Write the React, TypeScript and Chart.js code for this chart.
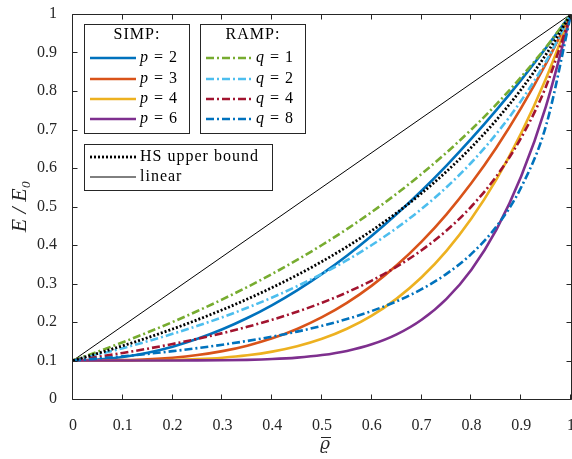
import React, { useEffect, useRef } from "react";
import { Chart, registerables } from "chart.js";

Chart.register(...registerables);

// density values
const rho = [0, 0.05, 0.1, 0.15, 0.2, 0.25, 0.3, 0.35, 0.4, 0.45, 0.5, 0.55, 0.6, 0.65, 0.7, 0.75, 0.8, 0.85, 0.9, 0.95, 1];

// SIMP curves
const simpP2 = [0.1, 0.1023, 0.109, 0.1203, 0.136, 0.1563, 0.181, 0.2103, 0.244, 0.2823, 0.325, 0.3723, 0.424, 0.4803, 0.541, 0.6063, 0.676, 0.7503, 0.829, 0.9123, 1];
const simpP3 = [0.1, 0.1001, 0.1009, 0.103, 0.1072, 0.1141, 0.1243, 0.1386, 0.1576, 0.182, 0.2125, 0.2497, 0.2944, 0.3472, 0.4087, 0.4797, 0.5608, 0.6527, 0.7561, 0.8716, 1];
const simpP4 = [0.1, 0.1, 0.1001, 0.1005, 0.1014, 0.1035, 0.1073, 0.1135, 0.123, 0.1369, 0.1563, 0.1824, 0.2166, 0.2607, 0.3161, 0.3848, 0.4686, 0.5698, 0.6905, 0.8331, 1];
const simpP6 = [0.1, 0.1, 0.1, 0.1, 0.1001, 0.1002, 0.1007, 0.1017, 0.1037, 0.1075, 0.1141, 0.1249, 0.142, 0.1679, 0.2059, 0.2602, 0.3359, 0.4394, 0.5783, 0.7616, 1];

// RAMP curves
const rampQ1 = [0.1, 0.1231, 0.1474, 0.173, 0.2, 0.2286, 0.2588, 0.2909, 0.325, 0.3613, 0.4, 0.4414, 0.4857, 0.5333, 0.5846, 0.64, 0.7, 0.7652, 0.8364, 0.9143, 1];
const rampQ2 = [0.1, 0.1155, 0.1321, 0.15, 0.1692, 0.19, 0.2125, 0.237, 0.2636, 0.2929, 0.325, 0.3605, 0.4, 0.4441, 0.4938, 0.55, 0.6143, 0.6885, 0.775, 0.8773, 1];
const rampQ4 = [0.1, 0.1094, 0.1196, 0.1307, 0.1429, 0.1563, 0.1711, 0.1875, 0.2059, 0.2266, 0.25, 0.2768, 0.3077, 0.3438, 0.3864, 0.4375, 0.5, 0.5781, 0.6786, 0.8125, 1];
const rampQ8 = [0.1, 0.1052, 0.111, 0.1173, 0.1243, 0.1321, 0.1409, 0.1508, 0.1621, 0.175, 0.19, 0.2076, 0.2286, 0.2539, 0.2853, 0.325, 0.3769, 0.4477, 0.55, 0.7107, 1];

// Hashin-Shtrikman upper bound
const hsUpper = [0.1, 0.1186, 0.1383, 0.1593, 0.1818, 0.2059, 0.2317, 0.2595, 0.2895, 0.3219, 0.3571, 0.3955, 0.4375, 0.4836, 0.5345, 0.5909, 0.6538, 0.7245, 0.8043, 0.8953, 1];

// linear reference
const linearX = [0, 1];
const linearY = [0.1, 1];

const xTickLabels = ["0", "0.1", "0.2", "0.3", "0.4", "0.5", "0.6", "0.7", "0.8", "0.9", "1"];
const yTickLabels = ["0", "0.1", "0.2", "0.3", "0.4", "0.5", "0.6", "0.7", "0.8", "0.9", "1"];

const simpLabels = ["p = 2", "p = 3", "p = 4", "p = 6"];
const rampLabels = ["q = 1", "q = 2", "q = 4", "q = 8"];
const otherLabels = ["HS upper bound", "linear"];
const groupTitles = ["SIMP:", "RAMP:"];
const xTitle = "ϱ";
const yTitle = "E / E₀";

const FONT = "'Liberation Serif', 'DejaVu Serif', serif";
const AXIS = "#262626";
const DASHDOT = [8, 3, 2, 3];

const framePlugin = {
  id: "frameAndLegend",
  afterDatasetsDraw(chart: any) {
    const { ctx, chartArea: a, scales } = chart;
    ctx.save();
    ctx.setLineDash([]);
    ctx.strokeStyle = AXIS;
    ctx.lineWidth = 1;
    const L = a.left - 0.5, R = a.right + 0.5, T = a.top + 0.5, B = a.bottom + 0.5;
    ctx.beginPath();
    ctx.rect(L, T, R - L, B - T);
    ctx.stroke();
    const tl = 5;
    ctx.beginPath();
    for (let i = 0; i < xTickLabels.length; i++) {
      const px = Math.round(scales.x.getPixelForValue(i / 10)) - 0.5;
      ctx.moveTo(px, B); ctx.lineTo(px, B - tl);
      ctx.moveTo(px, T); ctx.lineTo(px, T + tl);
    }
    for (let i = 0; i < yTickLabels.length; i++) {
      const py = Math.round(scales.y.getPixelForValue(i / 10)) + 0.5;
      ctx.moveTo(L, py); ctx.lineTo(L + tl, py);
      ctx.moveTo(R, py); ctx.lineTo(R - tl, py);
    }
    ctx.stroke();

    // x-axis title: varrho with a bar
    const cx = (a.left + a.right) / 2 + 3;
    ctx.fillStyle = AXIS;
    ctx.font = `italic 17px 'DejaVu Serif', serif`;
    ctx.textAlign = "center";
    ctx.textBaseline = "alphabetic";
    ctx.fillText(xTitle, cx, 449);
    const gw = ctx.measureText(xTitle).width;
    ctx.beginPath();
    ctx.lineWidth = 1;
    ctx.moveTo(cx - gw / 2 + 1, 437.5);
    ctx.lineTo(cx + gw / 2 + 1, 437.5);
    ctx.stroke();

    const ds = chart.data.datasets;
    const drawBox = (x: number, y: number, w: number, h: number) => {
      ctx.setLineDash([]);
      ctx.fillStyle = "#ffffff";
      ctx.fillRect(x, y, w, h);
      ctx.strokeStyle = AXIS;
      ctx.lineWidth = 1;
      ctx.strokeRect(x + 0.5, y + 0.5, w, h);
    };
    const drawItem = (d: any, x: number, y: number) => {
      ctx.save();
      ctx.strokeStyle = d.borderColor;
      ctx.lineWidth = d.borderWidth < 1.5 ? 1 : d.borderWidth;
      ctx.setLineDash(d.borderDash || []);
      ctx.lineCap = "butt";
      ctx.beginPath();
      ctx.moveTo(x, y); ctx.lineTo(x + 46, y);
      ctx.stroke();
      ctx.restore();
      ctx.fillStyle = "#000000";
      ctx.textBaseline = "middle";
      ctx.textAlign = "left";
      const label: string = d.label;
      const m = /^([pq]) (=) (.*)$/.exec(label);
      let tx = x + 50;
      if (m) {
        ctx.font = `italic 16px ${FONT}`;
        ctx.fillText(m[1], tx, y);
        tx += ctx.measureText(m[1]).width + 6;
        ctx.font = `16px ${FONT}`;
        ctx.fillText(m[2], tx, y);
        tx += ctx.measureText(m[2]).width + 6;
        ctx.fillText(m[3], tx, y);
      } else {
        ctx.font = `16px ${FONT}`;
        (ctx as any).letterSpacing = "1px";
        ctx.fillText(label, tx, y);
        (ctx as any).letterSpacing = "0px";
      }
    };
    const rows = [58, 79, 99, 119];
    drawBox(84, 24, 105, 109);
    drawBox(200, 24, 105, 109);
    ctx.fillStyle = "#000000";
    ctx.font = `16px ${FONT}`;
    (ctx as any).letterSpacing = "1px";
    ctx.textAlign = "center";
    ctx.textBaseline = "middle";
    ctx.fillText(groupTitles[0], 137, 35);
    ctx.fillText(groupTitles[1], 253, 35);
    (ctx as any).letterSpacing = "0px";
    for (let i = 0; i < 4; i++) {
      drawItem(ds[i], 90, rows[i]);
      drawItem(ds[4 + i], 206, rows[i]);
    }
    drawBox(84, 144, 188, 46);
    drawItem(ds[8], 90, 157);
    drawItem(ds[9], 90, 177);
    ctx.restore();
  },
};

const zeroPad = (s: any) => {
  s.paddingLeft = 0;
  s.paddingRight = 0;
  s.paddingTop = 0;
  s.paddingBottom = 0;
};

export default function App() {
  const ref = useRef<HTMLCanvasElement>(null);
  useEffect(() => {
    if (!ref.current) return;
    const pts = (ys: number[]) => rho.map((x, i) => ({ x, y: ys[i] }));
    const series = [simpP2, simpP3, simpP4, simpP6, rampQ1, rampQ2, rampQ4, rampQ8];
    const colors = ["#0072BD", "#D95319", "#EDB120", "#7E2F8E", "#77AC30", "#4DBEEE", "#A2142F", "#0072BD"];
    const labels = [...simpLabels, ...rampLabels];
    const datasets: any[] = series.map((s, i) => ({
      label: labels[i],
      data: pts(s),
      borderColor: colors[i],
      borderWidth: 2.6,
      borderDash: i >= 4 ? DASHDOT : [],
      order: 10 - i,
    }));
    datasets.push({
      label: otherLabels[0],
      data: pts(hsUpper),
      borderColor: "#000000",
      borderWidth: 2.8,
      borderDash: [2, 2],
      order: 0,
    });
    datasets.push({
      label: otherLabels[1],
      data: linearX.map((x, i) => ({ x, y: linearY[i] })),
      borderColor: "#000000",
      borderWidth: 1,
      borderDash: [],
      order: 20,
    });
    const chart = new Chart(ref.current, {
      type: "line",
      data: { datasets },
      options: {
        animation: false,
        responsive: false,
        events: [],
        layout: { padding: { left: 0, top: 14, right: 1, bottom: 0 }, autoPadding: false },
        plugins: { legend: { display: false }, tooltip: { enabled: false } },
        elements: {
          point: { radius: 0 },
          line: { cubicInterpolationMode: "monotone", borderCapStyle: "butt", fill: false },
        },
        scales: {
          x: {
            type: "linear",
            min: 0,
            max: 1,
            grid: { display: false },
            border: { display: false },
            ticks: {
              stepSize: 0.1,
              padding: 9,
              color: AXIS,
              autoSkip: false,
              maxRotation: 0,
              font: { family: FONT, size: 16 },
              callback: (v: any) => xTickLabels[Math.round(Number(v) * 10)],
            },
            title: { display: false },
            afterFit: (s: any) => { s.height = 60; zeroPad(s); },
          },
          y: {
            type: "linear",
            min: 0,
            max: 1,
            grid: { display: false },
            border: { display: false },
            ticks: {
              stepSize: 0.1,
              padding: 8,
              color: AXIS,
              autoSkip: false,
              font: { family: FONT, size: 16 },
              callback: (v: any) => yTickLabels[Math.round(Number(v) * 10)],
            },
            title: {
              display: true,
              text: yTitle,
              color: AXIS,
              font: { family: FONT, size: 22, style: "italic" },
              padding: { top: 7, bottom: 0 },
            },
            afterFit: (s: any) => { s.width = 73; zeroPad(s); },
          },
        },
      } as any,
      plugins: [framePlugin],
    });
    return () => chart.destroy();
  }, []);
  return (
    <div style={{ position: "fixed", left: 0, top: 0, width: 572, height: 459 }}>
      <canvas ref={ref} width={572} height={459} style={{ display: "block" }} />
    </div>
  );
}
